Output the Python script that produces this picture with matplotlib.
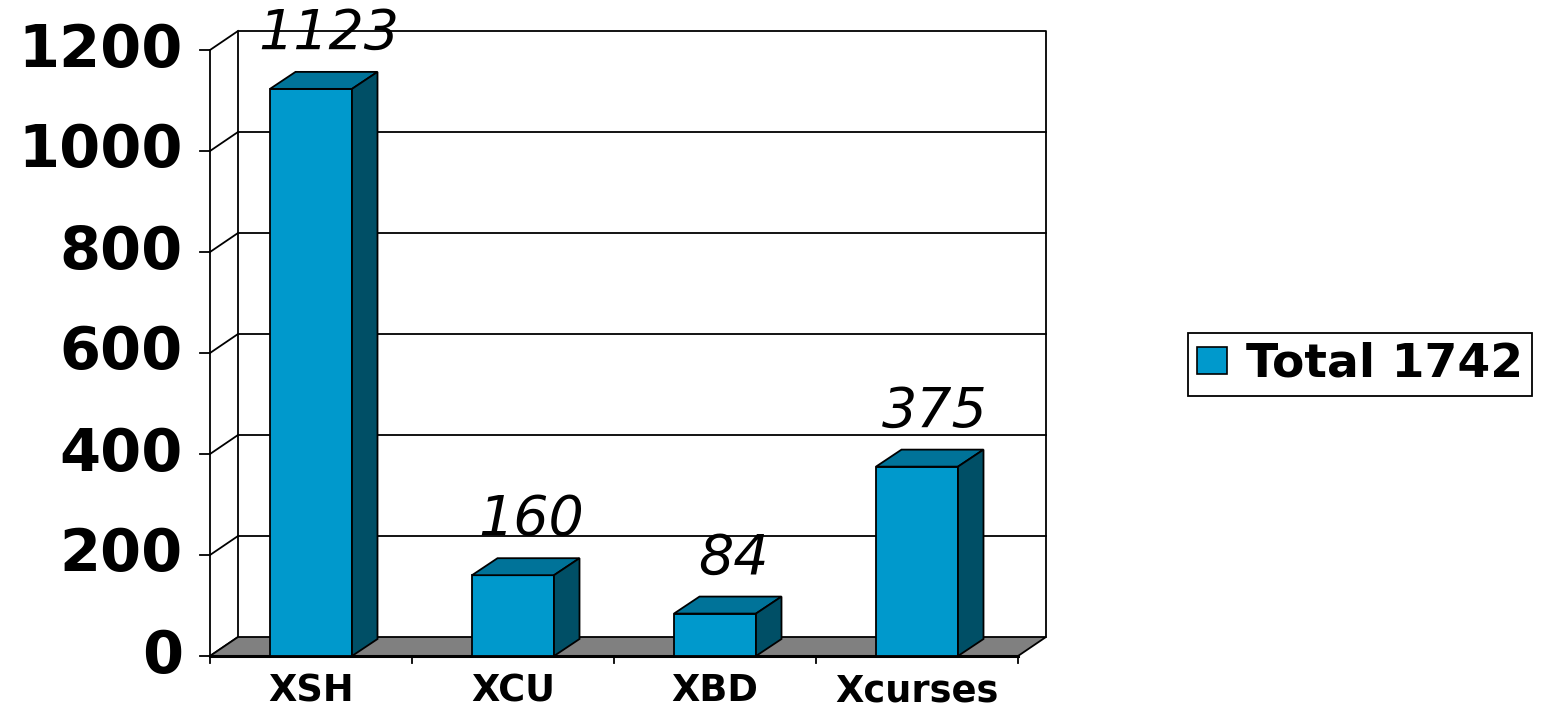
import matplotlib
matplotlib.use("Agg")
import matplotlib.pyplot as plt
from matplotlib.patches import Patch

categories = ["XSH", "XCU", "XBD", "Xcurses"]
values = [1123, 160, 84, 375]
yticks = [0, 200, 400, 600, 800, 1000, 1200]
legend_label = "Total 1742"

FRONT = "#0099CC"
TOP = "#007399"
SIDE = "#004F66"
FLOOR = "#808080"

W, H = 1565, 711
fig = plt.figure(figsize=(W / 100, H / 100), dpi=100)
ax = fig.add_axes([0, 0, 1, 1])
ax.set_axis_off()

# pixel geometry -> data mapping
ppc = 202.0       # pixels per category
ppu = 0.505       # pixels per value unit
x_front_px, y_zero_px = 210.0, 656.0
ax.set_xlim(-0.5 - x_front_px / ppc, -0.5 + (W - x_front_px) / ppc)
ax.set_ylim(-(H - y_zero_px) / ppu, y_zero_px / ppu)

dx, dy = 28 / ppc, 19 / ppu          # wall depth
bdx, bdy = 25.5 / ppc, 17 / ppu      # bar depth
ymax = yticks[-1]
n = len(categories)
xl, xr = -0.5, n - 0.5
lw = 1.3

# back wall
ax.plot([xl + dx, xl + dx, xr + dx, xr + dx], [dy, ymax + dy, ymax + dy, dy],
        color="black", lw=lw, zorder=1)
for t in yticks[1:-1]:
    ax.plot([xl + dx, xr + dx], [t + dy, t + dy], color="black", lw=lw, zorder=1)
# front axis line and diagonals
ax.plot([xl, xl], [0, ymax], color="black", lw=lw, zorder=1)
for t in yticks:
    ax.plot([xl, xl + dx], [t, t + dy], color="black", lw=lw, zorder=1)
    ax.plot([xl - 10 / ppc, xl], [t, t], color="black", lw=lw, zorder=1)
    ax.text(xl - 27 / ppc, t, f"{t}", ha="right", va="center", fontsize=42.5,
            fontweight="bold", family="DejaVu Sans")

# floor
ax.fill([xl, xr, xr + dx, xl + dx], [0, 0, dy, dy], facecolor=FLOOR,
        edgecolor="black", lw=lw, zorder=2)
ax.plot([xl, xr], [0, 0], color="black", lw=2.2, zorder=2.5)

# category ticks and labels
for k in range(n + 1):
    ax.plot([xl + k, xl + k], [0, -14], color="black", lw=lw, zorder=2)
for i, c in enumerate(categories):
    ax.text(i, -(701 - y_zero_px) / ppu, c, ha="center", va="baseline", fontsize=26.5,
            fontweight="bold", family="DejaVu Sans")

# bars
bw = 82 / ppc
ax.bar(range(n), values, width=bw, color=FRONT, edgecolor="black", lw=lw, zorder=3)
for i, v in enumerate(values):
    L, R = i - bw / 2, i + bw / 2
    ax.fill([L, R, R + bdx, L + bdx], [v, v, v + bdy, v + bdy], facecolor=TOP,
            edgecolor="black", lw=lw, zorder=3)
    ax.fill([R, R + bdx, R + bdx, R], [0, bdy, v + bdy, v], facecolor=SIDE,
            edgecolor="black", lw=lw, zorder=3)
    ax.text(i + 0.09, v + bdy + 23 / ppu, f"{v}", ha="center", va="baseline",
            fontsize=40, fontstyle="italic", family="DejaVu Sans", zorder=4)

# legend
handle = Patch(facecolor=FRONT, edgecolor="black", lw=1.2)
leg = ax.legend([handle], [legend_label], loc="center left",
                bbox_to_anchor=(1188 / W, 1 - 364.5 / H), bbox_transform=fig.transFigure,
                borderaxespad=0, frameon=True, fancybox=False, framealpha=1,
                edgecolor="black", prop={"family": "DejaVu Sans", "weight": "bold", "size": 34},
                handlelength=0.62, handleheight=0.5, handletextpad=0.4,
                borderpad=0.2)
leg.get_frame().set_linewidth(1.3)

fig.savefig("out.png", dpi=100)
